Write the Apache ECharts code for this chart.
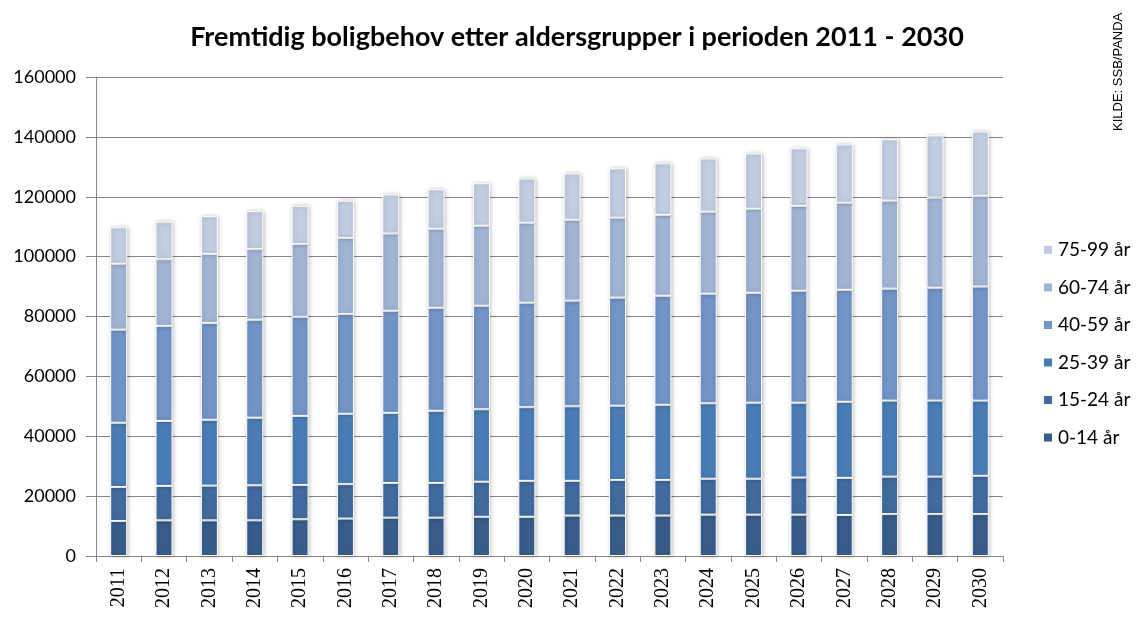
<!DOCTYPE html>
<html><head><meta charset="utf-8">
<script src="https://cdn.jsdelivr.net/npm/echarts@6/dist/echarts.min.js"></script>
<style>html,body{margin:0;padding:0;background:#fff}#c{width:1145px;height:625px}</style>
</head><body><div id="c"></div>
<script>
const years = ['2011','2012','2013','2014','2015','2016','2017','2018','2019','2020','2021','2022','2023','2024','2025','2026','2027','2028','2029','2030'];
const seriesNames = ['0-14 år','15-24 år','25-39 år','40-59 år','60-74 år','75-99 år'];
const age0_14  = [11700,11900,11900,11900,12250,12500,12800,12800,13100,13100,13500,13500,13500,13800,13800,13800,13700,14000,14000,14000];
const age15_24 = [11350,11500,11600,11700,11450,11500,11600,11600,11700,12000,11600,11900,11900,12000,12000,12400,12400,12500,12500,12800];
const age25_39 = [21450,21700,22000,22600,23100,23500,23400,24100,24200,24600,24900,24800,25100,25200,25400,25000,25400,25400,25400,25100];
const age40_59 = [31100,31700,32300,32700,33100,33300,34100,34400,34600,34900,35300,36100,36400,36600,36700,37400,37400,37400,37700,38100];
const age60_74 = [22000,22300,23100,23600,24300,25400,25800,26400,26700,26700,27000,26700,27000,27400,28100,28300,29100,29400,30100,30300];
const age75_99 = [12200,12600,12600,12700,12800,12500,13100,13200,14200,14800,15500,16500,17300,17800,18500,19300,19500,20500,20800,21500];
const yTicks = [0,20000,40000,60000,80000,100000,120000,140000,160000];

const values = [age0_14, age15_24, age25_39, age40_59, age60_74, age75_99];
const colors = ['#385D8A','#416A9E','#4A7CB5','#7394C6','#A2B4D5','#C2CDE2'];
const font = 'Lato, "Liberation Sans", sans-serif';

const chart = echarts.init(document.getElementById('c'));
chart.setOption({
  animation: false,
  title: {
    text: 'Fremtidig boligbehov etter aldersgrupper i perioden 2011 - 2030',
    left: 572, textAlign: 'center', top: 19,
    textStyle: {fontFamily: font, fontWeight: 'bold', fontSize: 27, color: '#000'}
  },
  legend: {
    orient: 'vertical', left: 1037, top: 235,
    data: seriesNames.slice().reverse(),
    itemWidth: 10, itemHeight: 10, itemGap: 17.5,
    icon: 'rect',
    textStyle: {fontFamily: font, fontSize: 19, color: '#000', lineHeight: 20, padding: [0,0,0,0]}
  },
  graphic: [{
    type: 'text', x: 1112, y: 131, rotation: Math.PI/2,
    style: {text: 'KILDE: SSB/PANDA', fontFamily: '"Liberation Sans", sans-serif', fontSize: 13, fill: '#000', textAlign: 'left', textVerticalAlign: 'top'}
  }],
  grid: {left: 96, right: 142, top: 77, bottom: 69},
  xAxis: {
    type: 'category', data: years,
    axisLine: {lineStyle: {color: '#868686', width: 1}},
    axisTick: {show: true, length: 6, lineStyle: {color: '#868686'}},
    axisLabel: {rotate: 90, fontFamily: '"Liberation Serif", "DejaVu Serif", serif', fontSize: 20, color: '#000', margin: 12}
  },
  yAxis: {
    type: 'value', min: 0, max: 160000, interval: 20000,
    axisLine: {show: true, lineStyle: {color: '#868686', width: 1}},
    axisTick: {show: true, length: 10, lineStyle: {color: '#868686'}},
    splitLine: {lineStyle: {color: '#868686', width: 1}},
    axisLabel: {fontFamily: font, fontSize: 18, color: '#000', margin: 20,
      formatter: v => yTicks.includes(v) ? String(v) : ''}
  },
  series: seriesNames.map((n, i) => ({
    name: n, type: 'bar', stack: 'total', data: values[i], barWidth: 17,
    itemStyle: {color: colors[i], borderColor: '#fff', borderWidth: 1,
      shadowBlur: 4, shadowColor: 'rgba(0,0,0,0.25)', shadowOffsetX: 1, shadowOffsetY: 0}
  }))
});
</script></body></html>
